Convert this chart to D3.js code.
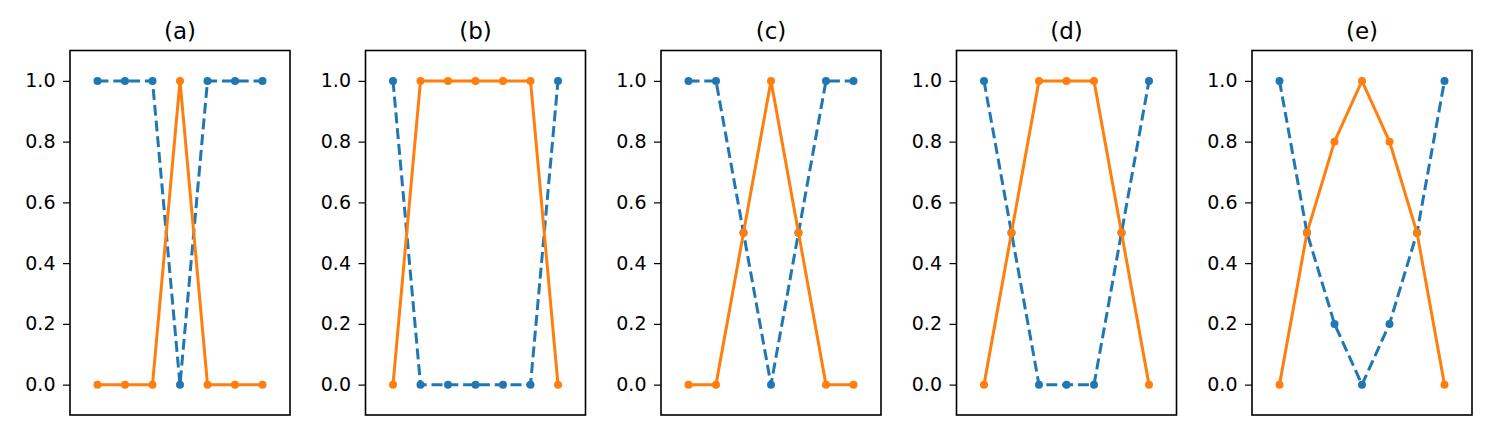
<!DOCTYPE html>
<html><head><meta charset="utf-8">
<script src="https://cdn.jsdelivr.net/npm/d3@7"></script>
<style>body{margin:0;background:#fff}svg{display:block}</style>
</head><body>
<script>
const titles = ["(a)", "(b)", "(c)", "(d)", "(e)"];
const xValues = [0, 1, 2, 3, 4, 5, 6];
const blueSeries = [
  [1, 1, 1, 0, 1, 1, 1],
  [1, 0, 0, 0, 0, 0, 1],
  [1, 1, 0.5, 0, 0.5, 1, 1],
  [1, 0.5, 0, 0, 0, 0.5, 1],
  [1, 0.5, 0.2, 0, 0.2, 0.5, 1]
];
const orangeSeries = [
  [0, 0, 0, 1, 0, 0, 0],
  [0, 1, 1, 1, 1, 1, 0],
  [0, 0, 0.5, 1, 0.5, 0, 0],
  [0, 0.5, 1, 1, 1, 0.5, 0],
  [0, 0.5, 0.8, 1, 0.8, 0.5, 0]
];
const yTicks = [0, 0.2, 0.4, 0.6, 0.8, 1.0];

(function () {
const W = 1500, H = 444;
const svg = d3.select("body").append("svg").attr("width", W).attr("height", H);
const pw = 220, pTop = 50.5, pBottom = 415;
const lefts = [70, 365.5, 661, 956.5, 1252];

titles.forEach((t, i) => {
  const x0 = lefts[i];
  const x = d3.scaleLinear().domain([-1, 7]).range([x0, x0 + pw]);
  const y = d3.scaleLinear().domain([-0.1, 1.1]).range([pBottom, pTop]);
  const g = svg.append("g");

  const yAxis = d3.axisLeft(y).tickValues(yTicks).tickFormat(d3.format(".1f")).tickSize(7).tickPadding(7.5);
  const ag = g.append("g").attr("transform", `translate(${x0},0)`).call(yAxis);
  ag.select(".domain").remove();
  ag.selectAll(".tick line").attr("stroke", "#000").attr("stroke-width", 1.2);
  ag.selectAll(".tick text").attr("fill", "#000").style("font-family", "DejaVu Sans").style("font-size", "19px");

  const line = d3.line().x((d, j) => x(xValues[j])).y(d => y(d));
  g.append("path").datum(blueSeries[i]).attr("d", line)
    .attr("fill", "none").attr("stroke", "#1f77b4").attr("stroke-width", 3)
    .attr("stroke-dasharray", "11,4.8");
  g.selectAll(".bdot").data(blueSeries[i]).enter().append("circle")
    .attr("cx", (d, j) => x(xValues[j])).attr("cy", d => y(d)).attr("r", 4).attr("fill", "#1f77b4");
  g.append("path").datum(orangeSeries[i]).attr("d", line)
    .attr("fill", "none").attr("stroke", "#ff7f0e").attr("stroke-width", 3)
    .attr("stroke-linejoin", "round");
  g.selectAll(".odot").data(orangeSeries[i]).enter().append("circle")
    .attr("cx", (d, j) => x(xValues[j])).attr("cy", d => y(d)).attr("r", 4).attr("fill", "#ff7f0e");

  g.append("rect").attr("x", x0).attr("y", pTop).attr("width", pw).attr("height", pBottom - pTop)
    .attr("fill", "none").attr("stroke", "#000").attr("stroke-width", 1.6);

  g.append("text").attr("x", x0 + pw / 2).attr("y", 39).attr("text-anchor", "middle")
    .style("font-family", "DejaVu Sans").style("font-size", "23px").attr("fill", "#000").text(t);
});
})();
</script>
</body></html>
